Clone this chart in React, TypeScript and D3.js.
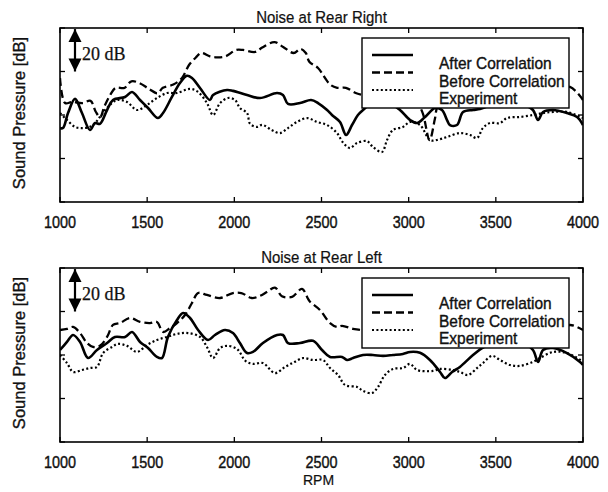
import React from 'react';
import * as d3 from 'd3';

// RPM ticks and hidden dB gridlines (20 dB per division)
const rpmTicks = [1000, 1500, 2000, 2500, 3000, 3500, 4000];
const dbTicks = [0, 20, 40, 60, 80];
const legendLabels = ['After Correlation', 'Before Correlation', 'Experiment'];

// Noise at Rear Right  [rpm, dB]
const rightAfter = [
  [1000, 34], [1017, 34], [1046, 40.9], [1086, 47.4], [1126, 40.9], [1172, 33.1], [1201, 36.3],
  [1229, 35.9], [1270, 42.3], [1304, 46.9], [1373, 48.3], [1413, 50.6], [1459, 46.9], [1505, 43.2],
  [1562, 38.6], [1591, 40.9], [1642, 48.3], [1688, 54.7], [1728, 58], [1757, 57], [1803, 52.4],
  [1860, 46.9], [1878, 49.2], [1958, 51.5], [1992, 51.1], [2073, 49.2], [2147, 47.8], [2245, 50.1],
  [2279, 49.2], [2308, 45.1], [2377, 45.5], [2440, 46.9], [2480, 45.5], [2532, 42.3], [2560, 40],
  [2606, 36.8], [2641, 30.8], [2675, 35.4], [2709, 40], [2738, 42.3], [2800, 46], [2900, 45],
  [2950, 42.3], [3008, 37.7], [3048, 36.3], [3094, 39.1], [3151, 43.2], [3191, 42.3], [3220, 37.7],
  [3237, 35.4], [3277, 35.4], [3312, 41.4], [3369, 42.3], [3409, 42.8], [3500, 45], [3650, 45],
  [3713, 42.3], [3742, 37.7], [3771, 41.4], [3828, 42.3], [3908, 40.9], [3966, 39.1], [4000, 35.4],
];
const rightBefore = [
  [1000, 57], [1029, 45.5], [1070, 46], [1130, 45.5], [1175, 46.5], [1205, 41.5], [1230, 39],
  [1255, 44], [1290, 49.5], [1320, 52.5], [1370, 52.5], [1410, 55.5], [1460, 54.5], [1510, 52],
  [1560, 50], [1590, 52.5], [1650, 54], [1700, 57], [1740, 63], [1780, 66.5], [1810, 68.5],
  [1860, 67], [1900, 66.5], [1950, 67], [2010, 69.9], [2050, 69.9], [2120, 69], [2160, 71],
  [2230, 73.5], [2280, 71.3], [2340, 68.5], [2380, 70.4], [2410, 68.5], [2430, 64.5], [2480, 61.6],
  [2550, 54], [2590, 52.5], [2640, 52.5], [2700, 50], [2750, 49], [2850, 48], [2950, 47],
  [3050, 45], [3080, 41], [3120, 28.5], [3150, 38], [3170, 45], [3250, 50], [3500, 51],
  [3800, 51.5], [3925, 52.9], [4000, 46.9],
];
const rightExp = [
  [1000, 40.9], [1040, 37.7], [1086, 34.5], [1132, 34], [1184, 35], [1229, 39.1], [1275, 43.7],
  [1327, 46.9], [1384, 46], [1442, 42.3], [1499, 44.6], [1556, 47.8], [1614, 50.1], [1671, 50.1],
  [1746, 52], [1792, 50.6], [1843, 45.5], [1878, 40], [1918, 45.5], [1964, 47.8], [2004, 46.9],
  [2032, 43.2], [2073, 40.9], [2090, 36], [2130, 34.5], [2160, 35.5], [2216, 33], [2262, 31.7],
  [2308, 34], [2359, 36.8], [2417, 38.6], [2474, 36.8], [2532, 35.4], [2589, 31.7], [2623, 27.4],
  [2663, 24.8], [2704, 27.1], [2761, 28], [2795, 25.3], [2847, 23], [2876, 28.5], [2910, 33.1],
  [2967, 34.5], [3008, 36.8], [3065, 35.4], [3122, 28.5], [3162, 28.5], [3220, 29.9], [3294, 31.7],
  [3352, 30.8], [3392, 29.4], [3426, 34], [3466, 36.3], [3524, 36.3], [3564, 38.6], [3639, 39.1],
  [3713, 40], [3771, 40.9], [3828, 41.4], [3908, 41.4], [4000, 38.6],
];

// Noise at Rear Left  [rpm, dB]
const leftAfter = [
  [1000, 42.3], [1040, 46], [1075, 49.2], [1115, 46], [1161, 38.6], [1212, 42.3], [1270, 45.5],
  [1315, 48.3], [1373, 48.3], [1413, 50.6], [1459, 46], [1505, 43.2], [1556, 39.1], [1585, 38.6],
  [1619, 48.3], [1671, 56.1], [1706, 59.3], [1746, 57], [1792, 51.5], [1849, 46.9], [1889, 49.2],
  [1946, 51.5], [1992, 50.1], [2032, 45.5], [2073, 40.9], [2107, 41.4], [2164, 45.5], [2245, 49.2],
  [2279, 49.2], [2308, 45.5], [2377, 45.5], [2451, 46.5], [2503, 42.3], [2549, 39.1], [2618, 39.1],
  [2646, 37.7], [2681, 38.6], [2738, 40], [2795, 40], [2853, 39.6], [2910, 40], [2967, 40.5],
  [3008, 41.4], [3065, 41], [3122, 37.7], [3180, 32.2], [3208, 29.4], [3249, 32.2], [3294, 34.5],
  [3369, 40], [3421, 43.2], [3500, 46], [3650, 46], [3713, 42.3], [3742, 36.8], [3771, 42.3],
  [3828, 43.2], [3908, 40.9], [3983, 36.8], [4000, 35.4],
];
const leftBefore = [
  [1000, 51.5], [1040, 52], [1075, 52.9], [1115, 50.1], [1155, 45.5], [1189, 43.7], [1229, 44.2],
  [1270, 48.3], [1304, 53.8], [1344, 54.7], [1402, 57], [1459, 55.2], [1516, 54.7], [1556, 55.2],
  [1591, 50.6], [1631, 52.4], [1671, 54.7], [1717, 58.4], [1757, 63.9], [1792, 68.5], [1843, 67.6],
  [1918, 66.2], [1992, 68.5], [2040, 68.5], [2100, 66.2], [2147, 67.2], [2187, 69], [2233, 71],
  [2273, 67], [2331, 66.7], [2388, 70.4], [2423, 65.8], [2434, 64.5], [2491, 60.7], [2549, 54.7],
  [2589, 52.9], [2618, 53.4], [2681, 52], [2720, 51.5], [2800, 50], [3000, 49], [3300, 49.5],
  [3600, 50], [3850, 51], [3925, 53.8], [4000, 51.5],
];
const leftExp = [
  [1000, 40], [1040, 36.3], [1075, 32.2], [1126, 33.1], [1172, 34], [1212, 34.5], [1247, 40.9],
  [1298, 43.7], [1333, 45.1], [1384, 44.2], [1442, 41.4], [1499, 44.6], [1556, 46.9], [1614, 48.3],
  [1671, 49.7], [1734, 50.1], [1803, 48.3], [1843, 43.7], [1878, 38.6], [1918, 43.2], [1958, 44.2],
  [2015, 42.8], [2065, 37.2], [2107, 35.9], [2164, 36.3], [2233, 31.7], [2291, 34.5], [2345, 36.8],
  [2394, 38.6], [2451, 37.7], [2509, 37.7], [2549, 34], [2595, 30.8], [2635, 26.2], [2704, 25.3],
  [2738, 23.5], [2790, 22.5], [2824, 25.3], [2864, 30.8], [2910, 33.6], [2967, 34], [3008, 35.9],
  [3048, 33.1], [3140, 32.7], [3180, 33.6], [3254, 33.1], [3294, 32.2], [3340, 30.8], [3392, 34],
  [3426, 36.3], [3478, 39.6], [3524, 37.7], [3581, 35.4], [3639, 35], [3713, 36.8], [3753, 38.6],
  [3828, 41.4], [3908, 40.9], [4000, 37],
];

const sans = '"Liberation Sans", Arial, Helvetica, sans-serif';
const serif = '"Liberation Serif", "Times New Roman", serif';
const ink = { fill: '#111', stroke: '#111', strokeWidth: 0.35 };

const styles = [
  { width: 2.6, dash: null },
  { width: 2.3, dash: '8,4' },
  { width: 2.2, dash: '2,2.4' },
];

function Panel({ top, title, series, id, xLabel }) {
  const x = d3.scaleLinear().domain([1000, 4000]).range([60, 583]);
  const y = d3.scaleLinear().domain([0, 80]).range([top + 174, top]);
  const line = d3.line().x(d => x(d[0])).y(d => y(d[1])).curve(d3.curveCatmullRom.alpha(0.5));
  const [x0, x1] = x.range();
  const [y1, y0] = y.range();
  const ax = x(1086);

  return (
    <g>
      <defs>
        <clipPath id={id}>
          <rect x={x0} y={y0} width={x1 - x0} height={y1 - y0} />
        </clipPath>
      </defs>
      <text transform={`translate(${(x0 + x1) / 2},${y0 - 5}) scale(1,1.12)`} textAnchor="middle"
        fontFamily={sans} fontSize={15} {...ink} strokeWidth={0.2}>{title}</text>
      <text transform={`translate(25,${(y0 + y1) / 2 - 2}) rotate(-90)`} textAnchor="middle"
        fontFamily={sans} fontSize={16.5} {...ink}>Sound Pressure [dB]</text>

      <g clipPath={`url(#${id})`}>
        {series.map((s, i) => (
          <path key={i} d={line(s)} fill="none" stroke="#000" strokeWidth={styles[i].width}
            strokeDasharray={styles[i].dash || undefined} strokeLinejoin="round" />
        ))}
      </g>

      {rpmTicks.map(t => (
        <g key={t}>
          <line x1={x(t)} x2={x(t)} y1={y1} y2={y1 - 5} stroke="#000" strokeWidth={1.3} />
          <line x1={x(t)} x2={x(t)} y1={y0} y2={y0 + 5} stroke="#000" strokeWidth={1.3} />
          <text transform={`translate(${x(t)},${y1 + 26}) scale(1,1.2)`} textAnchor="middle"
            fontFamily={sans} fontSize={14.4} {...ink}>{t}</text>
        </g>
      ))}
      {dbTicks.map(t => (
        <g key={t}>
          <line x1={x0} x2={x0 + 5} y1={y(t)} y2={y(t)} stroke="#000" strokeWidth={1.3} />
          <line x1={x1} x2={x1 - 5} y1={y(t)} y2={y(t)} stroke="#000" strokeWidth={1.3} />
        </g>
      ))}
      <rect x={x0} y={y0} width={x1 - x0} height={y1 - y0} fill="none" stroke="#000" strokeWidth={1.6} />

      {/* 20 dB scale arrow */}
      <line x1={ax} x2={ax} y1={y(79.5)} y2={y(60)} stroke="#000" strokeWidth={2.2} />
      <path d={`M${ax},${y(79.5)} L${ax - 6.5},${y(79.5) + 13} L${ax + 6.5},${y(79.5) + 13} Z`} fill="#000" />
      <path d={`M${ax},${y(60)} L${ax - 6.5},${y(60) - 13} L${ax + 6.5},${y(60) - 13} Z`} fill="#000" />
      <text x={ax + 7} y={top + 32} fontFamily={serif} fontSize={18} {...ink} strokeWidth={0.25}>20 dB</text>

      {/* legend */}
      <rect x={362} y={top + 10} width={207} height={70} fill="#fff" stroke="#000" strokeWidth={1.4} />
      {legendLabels.map((l, i) => (
        <g key={l}>
          <line x1={372} x2={413} y1={top + 27 + i * 17.5} y2={top + 27 + i * 17.5} stroke="#000"
            strokeWidth={styles[i].width} strokeDasharray={styles[i].dash || undefined} />
          <text transform={`translate(439,${top + 41 + i * 17.5}) scale(1,1.12)`} fontFamily={sans}
            fontSize={15.5} {...ink}>{l}</text>
        </g>
      ))}

      {xLabel && (
        <text transform={`translate(${(x0 + x1) / 2 - 3},${y1 + 43}) scale(1,1.1)`} textAnchor="middle"
          fontFamily={sans} fontSize={14} {...ink} strokeWidth={0.2}>{xLabel}</text>
      )}
    </g>
  );
}

export default function App() {
  return (
    <svg width={608} height={492} style={{ position: 'fixed', left: 0, top: 0, background: '#fff' }}>
      <rect width={608} height={492} fill="#fff" />
      <Panel top={28} id="clipR" title="Noise at Rear Right" series={[rightAfter, rightBefore, rightExp]} />
      <Panel top={268} id="clipL" title="Noise at Rear Left" series={[leftAfter, leftBefore, leftExp]} xLabel="RPM" />
    </svg>
  );
}
